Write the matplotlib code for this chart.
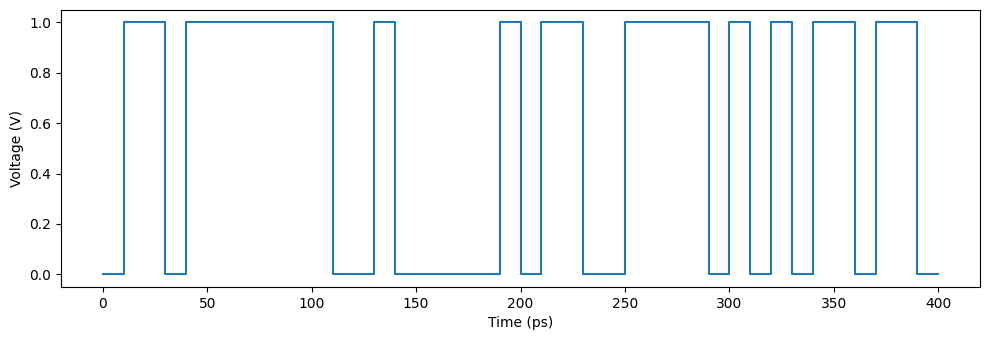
import matplotlib
matplotlib.use('Agg')
import matplotlib.pyplot as plt
import numpy as np

# one bit every 10 ps
bit_period = 10
bits = [0, 1, 1, 0, 1, 1, 1, 1, 1, 1, 1, 0, 0, 1, 0, 0, 0, 0, 0, 1,
        0, 1, 1, 0, 0, 1, 1, 1, 1, 0, 1, 0, 1, 0, 1, 1, 0, 1, 1, 0]

time = np.arange(len(bits) + 1) * bit_period
voltage = np.array(bits + [bits[-1]], dtype=float)

fig, ax = plt.subplots(figsize=(9.89, 3.4), dpi=100)
ax.step(time, voltage, where='post')

ax.set_xlabel('Time (ps)')
ax.set_ylabel('Voltage (V)')

plt.subplots_adjust(left=0.0617, right=0.991, top=0.971, bottom=0.156)
plt.savefig('out.png')
